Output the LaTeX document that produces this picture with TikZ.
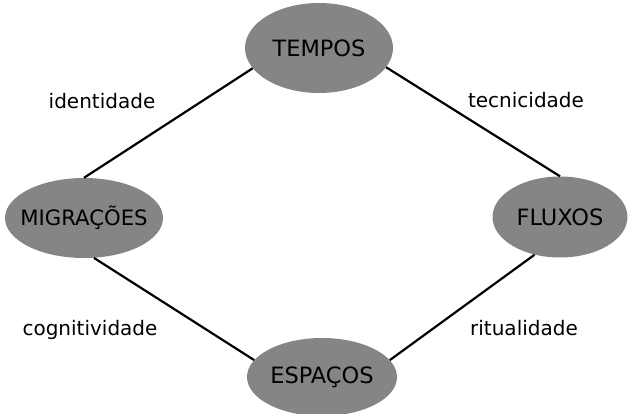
\documentclass[tikz,border=0pt]{standalone}
\usepackage{fontspec}
\setmainfont{DejaVu Sans}
\usetikzlibrary{shapes.geometric}
\definecolor{ovalgray}{RGB}{133,133,133}
\begin{document}
\begin{tikzpicture}[x=1pt,y=-1pt,
  oval/.style={ellipse,fill=ovalgray,inner ysep=0pt,inner xsep=-30pt,font=\fontsize{22.5}{26}\selectfont},
  rel/.style={font=\fontsize{20}{24}\selectfont,inner sep=0pt,anchor=base},
  link/.style={line width=2.2pt}]
\useasboundingbox (0,0) rectangle (632,414);

\node[oval,minimum width=148pt,minimum height=90pt] (tempos) at (319,48) {TEMPOS};
\node[oval,minimum width=158pt,minimum height=80pt,font=\fontsize{21.2}{26}\selectfont] (migracoes) at (84,218) {MIGRAÇÕES};
\node[oval,minimum width=135pt,minimum height=81pt] (fluxos) at (560,217) {FLUXOS};
\node[oval,minimum width=150pt,minimum height=78pt] (espacos) at (322,377) {ESPAÇOS};

\node[rel] (identidade) at (102,109) {identidade};
\node[rel] (tecnicidade) at (526,108) {tecnicidade};
\node[rel] (cognitividade) at (90,335) {cognitividade};
\node[rel] (ritualidade) at (524,335) {ritualidade};

\draw[link] (tempos.197) -- (migracoes.north);
\draw[link] (tempos.344) -- (fluxos.north);
\draw[link] (migracoes.284) -- (espacos.166);
\draw[link] (fluxos.236) -- (espacos.14);
\end{tikzpicture}
\end{document}
